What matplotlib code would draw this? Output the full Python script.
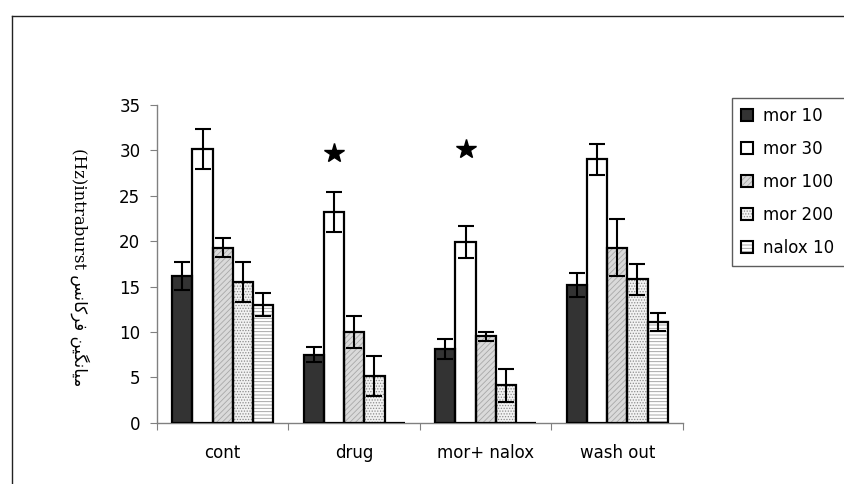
import numpy as np
import matplotlib
matplotlib.use("Agg")
import matplotlib.pyplot as plt
from matplotlib.patches import Patch
from matplotlib.lines import Line2D
from matplotlib.legend_handler import HandlerTuple

### DATA ###
categories = ["cont", "drug", "mor+ nalox", "wash out"]
series_names = ["mor 10", "mor 30", "mor 100", "mor 200", "nalox 10"]

mor10 = [16.2, 7.5, 8.1, 15.2]
mor30 = [30.2, 23.2, 19.9, 29.0]
mor100 = [19.3, 10.0, 9.5, 19.3]
mor200 = [15.5, 5.1, 4.1, 15.8]
nalox10 = [13.0, 0.0, 0.0, 11.1]

mor10_err = [1.55, 0.85, 1.1, 1.3]
mor30_err = [2.2, 2.2, 1.8, 1.7]
mor100_err = [1.1, 1.8, 0.5, 3.1]
mor200_err = [2.2, 2.2, 1.8, 1.7]
nalox10_err = [1.3, 0.0, 0.0, 1.0]

# significance stars sit over the mor 30 bar
star_cats = [1, 2]
star_y = [29.7, 30.2]

yticks = [0, 5, 10, 15, 20, 25, 30, 35]

# persian part already in visual order / presentation forms
ylabel_txt = "(Hz)intraburst " + "\ufeb2\ufee7\ufe8e\ufb90\ufeae\ufed3 \ufee6\ufbff\ufb95\ufee7\ufe8e\ufbff\ufee3"

### STYLE ###
plt.rcParams["font.family"] = ["DejaVu Sans"]
plt.rcParams["hatch.linewidth"] = 0.6

values = [mor10, mor30, mor100, mor200, nalox10]
errors = [mor10_err, mor30_err, mor100_err, mor200_err, nalox10_err]
faces = ["#333333", "white", "#dadada", "#f2f2f2", "white"]
hatches = [None, None, "//////", "......", "-----"]
hatch_cols = ["#333333", "white", "#a8a8a8", "#8c8c8c", "#9a9a9a"]

fig = plt.figure(figsize=(8.45, 4.84), dpi=100)
ax = fig.add_axes([157 / 845, 1 - 422.7 / 484, (683 - 157) / 845, (422.7 - 105) / 484])

nser = len(values)
w = 1 / 6.5
x = np.arange(len(categories)) + 0.5
for i in range(nser):
    xs = x + (i - 2) * w
    # fill + pattern first, black outline on top
    ax.bar(xs, values[i], w, color=faces[i], hatch=hatches[i], edgecolor=hatch_cols[i],
           linewidth=0, zorder=2)
    ax.bar(xs, values[i], w, fill=False, edgecolor="black", linewidth=1.6, zorder=3)
    err = np.array(errors[i])
    m = err > 0
    ax.errorbar(xs[m], np.array(values[i])[m], yerr=err[m], fmt="none", ecolor="black",
                elinewidth=1.5, capsize=6, capthick=1.5, zorder=4)

ax.plot(x[star_cats] - w, star_y, "k*", markersize=15, zorder=5)

ax.set_xlim(0, len(categories))
ax.set_ylim(0, 35)
ax.set_yticks(yticks)
ax.set_xticks(np.arange(len(categories) + 1))
ax.set_xticklabels([])
ax.set_xticks(x, minor=True)
ax.set_xticklabels(categories, minor=True)
ax.tick_params(axis="x", which="minor", length=0, pad=15, labelsize=12)
ax.tick_params(axis="x", which="major", direction="out", length=5, color="#808080")
ax.tick_params(axis="y", direction="out", length=5, color="#808080", pad=7, labelsize=12)
for s in ["top", "right"]:
    ax.spines[s].set_visible(False)
for s in ["left", "bottom"]:
    ax.spines[s].set_color("#808080")
    ax.spines[s].set_linewidth(1)

fig.text(80 / 845, 1 - 267 / 484, ylabel_txt, rotation=-90, ha="center", va="center",
         fontsize=12, family=["DejaVu Serif", "DejaVu Sans"])

# legend
handles = []
for i in range(nser):
    inner = Patch(facecolor=faces[i], hatch=hatches[i], edgecolor=hatch_cols[i], linewidth=0)
    outer = Patch(fill=False, edgecolor="black", linewidth=1.5)
    handles.append((inner, outer))
leg = fig.legend(handles, series_names, handler_map={tuple: HandlerTuple(ndivide=1)},
                 loc="upper left", bbox_to_anchor=(732 / 845, 0, 0.3, 1 - 98 / 484),
                 mode="expand", fontsize=12, frameon=True, fancybox=False,
                 borderpad=0.55, borderaxespad=0, handlelength=0.72, handleheight=0.72,
                 handletextpad=0.6, labelspacing=0.9)
leg.get_frame().set_edgecolor("#333333")
leg.get_frame().set_linewidth(1)

# chart area border (cut off on right / bottom)
fig.add_artist(Line2D([12 / 845, 12 / 845], [0, 1 - 16 / 484], transform=fig.transFigure,
                      color="#222222", linewidth=1))
fig.add_artist(Line2D([12 / 845, 1], [1 - 16 / 484, 1 - 16 / 484], transform=fig.transFigure,
                      color="#222222", linewidth=1))

fig.savefig("out.png", dpi=100)
